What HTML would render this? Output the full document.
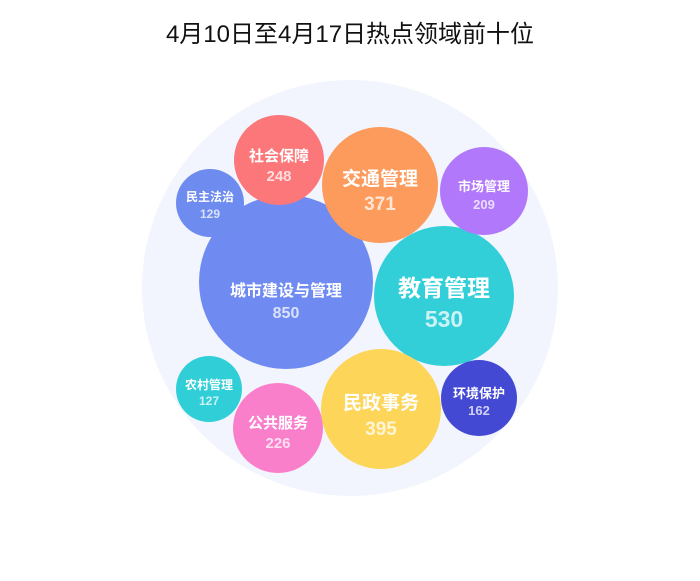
<!DOCTYPE html>
<html><head><meta charset="utf-8"><style>
body{margin:0;background:#fff;width:700px;height:576px;overflow:hidden;font-family:"Liberation Sans","Noto Sans CJK SC",sans-serif;}
</style></head><body>
<svg width="700" height="576" xmlns="http://www.w3.org/2000/svg" font-family="Liberation Sans, Noto Sans CJK SC, sans-serif">
<text x="350" y="42" text-anchor="middle" font-size="24" fill="#111">4月10日至4月17日热点领域前十位</text>
<circle cx="350" cy="288" r="208" fill="#f2f5fd"/>
<g font-weight="bold">
<circle cx="286" cy="282" r="87" fill="#6f8bf1"/>
<text x="286" y="296" text-anchor="middle" font-size="16" fill="#fff">城市建设与管理</text>
<text x="286" y="318" text-anchor="middle" font-size="16" fill="#fff" fill-opacity="0.75">850</text>
<circle cx="444" cy="296" r="70" fill="#33cfd9"/>
<text x="444" y="296" text-anchor="middle" font-size="23" fill="#fff">教育管理</text>
<text x="444" y="327" text-anchor="middle" font-size="23" fill="#fff" fill-opacity="0.75">530</text>
<circle cx="279" cy="160" r="45" fill="#fb7779"/>
<text x="279" y="161" text-anchor="middle" font-size="15" fill="#fff">社会保障</text>
<text x="279" y="181" text-anchor="middle" font-size="15" fill="#fff" fill-opacity="0.75">248</text>
<circle cx="380" cy="185" r="58" fill="#fc9b5b"/>
<text x="380" y="185" text-anchor="middle" font-size="19" fill="#fff">交通管理</text>
<text x="380" y="210" text-anchor="middle" font-size="19" fill="#fff" fill-opacity="0.75">371</text>
<circle cx="484" cy="191" r="44" fill="#b178fb"/>
<text x="484" y="191" text-anchor="middle" font-size="13" fill="#fff">市场管理</text>
<text x="484" y="209" text-anchor="middle" font-size="13" fill="#fff" fill-opacity="0.75">209</text>
<circle cx="210" cy="203" r="34" fill="#6e8bf0"/>
<text x="210" y="201" text-anchor="middle" font-size="12" fill="#fff">民主法治</text>
<text x="210" y="218" text-anchor="middle" font-size="12" fill="#fff" fill-opacity="0.75">129</text>
<circle cx="209" cy="389" r="33" fill="#30cfd8"/>
<text x="209" y="389" text-anchor="middle" font-size="12" fill="#fff">农村管理</text>
<text x="209" y="405" text-anchor="middle" font-size="12" fill="#fff" fill-opacity="0.75">127</text>
<circle cx="278" cy="428" r="45" fill="#f97fcb"/>
<text x="278" y="428" text-anchor="middle" font-size="15" fill="#fff">公共服务</text>
<text x="278" y="448" text-anchor="middle" font-size="15" fill="#fff" fill-opacity="0.75">226</text>
<circle cx="381" cy="409" r="60" fill="#fdd558"/>
<text x="381" y="409" text-anchor="middle" font-size="19" fill="#fff">民政事务</text>
<text x="381" y="435" text-anchor="middle" font-size="19" fill="#fff" fill-opacity="0.75">395</text>
<circle cx="479" cy="398" r="38" fill="#4449d4"/>
<text x="479" y="398" text-anchor="middle" font-size="13" fill="#fff">环境保护</text>
<text x="479" y="415" text-anchor="middle" font-size="13" fill="#fff" fill-opacity="0.75">162</text>
</g>
</svg>
</body></html>
